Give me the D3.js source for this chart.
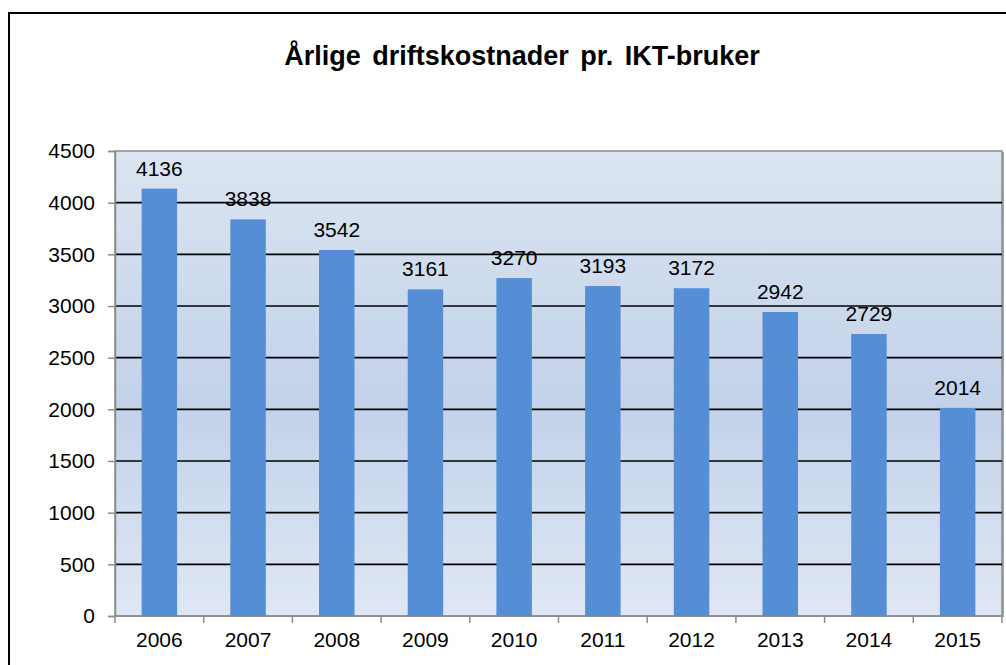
<!DOCTYPE html>
<html>
<head>
<meta charset="utf-8">
<script src="https://cdn.jsdelivr.net/npm/d3@7"></script>
<style>
  body { margin: 0; background: #fff; }
  svg { display: block; font-family: Arial, "Liberation Sans", sans-serif; }
</style>
</head>
<body>
<svg id="chart" width="1006" height="665"></svg>
<script>
const years = ['2006', '2007', '2008', '2009', '2010', '2011', '2012', '2013', '2014', '2015']
const costs = [4136, 3838, 3542, 3161, 3270, 3193, 3172, 2942, 2729, 2014]
const yTicks = [0, 500, 1000, 1500, 2000, 2500, 3000, 3500, 4000, 4500]
const title = 'Årlige driftskostnader pr. IKT-bruker'

const svg = d3.select('#chart')
const plotL = 115, plotR = 1002, plotT = 151, plotB = 616
const barColor = '#558ed5'
const fontSize = '21px'

// outer frame (runs off the right and bottom edges)
svg.append('rect')
  .attr('x', 9).attr('y', 13)
  .attr('width', 1010).attr('height', 670)
  .attr('fill', 'none')
  .attr('stroke', '#000')
  .attr('stroke-width', 2)

const defs = svg.append('defs')
const grad = defs.append('linearGradient')
  .attr('id', 'bg')
  .attr('x1', 0).attr('y1', 0).attr('x2', 0).attr('y2', 1)
grad.append('stop').attr('offset', '0%').attr('stop-color', '#dbe5f1')
grad.append('stop').attr('offset', '55%').attr('stop-color', '#c2d2ea')
grad.append('stop').attr('offset', '100%').attr('stop-color', '#dfe7f4')

const x = d3.scaleBand()
  .domain(years)
  .range([plotL, plotR])
  .paddingInner(0.6)
  .paddingOuter(0.3)

const y = d3.scaleLinear()
  .domain([0, 4500])
  .range([plotB, plotT])

// plot background + shadowed border
svg.append('rect')
  .attr('x', plotL + 2).attr('y', plotT + 1)
  .attr('width', plotR - plotL).attr('height', plotB - plotT)
  .attr('fill', '#a6a6a6')
svg.append('rect')
  .attr('x', plotL).attr('y', plotT)
  .attr('width', plotR - plotL).attr('height', plotB - plotT)
  .attr('fill', 'url(#bg)')
  .attr('stroke', '#8c8c8c')
  .attr('stroke-width', 1.5)

// gridlines
svg.append('g')
  .selectAll('line')
  .data(yTicks.filter(t => t > 0 && t < 4500))
  .join('line')
  .attr('x1', plotL).attr('x2', plotR)
  .attr('y1', d => y(d)).attr('y2', d => y(d))
  .attr('stroke', '#000')
  .attr('stroke-width', 1.6)

// y axis
const yAxis = svg.append('g')
  .attr('transform', `translate(${plotL},0)`)
  .call(d3.axisLeft(y).tickValues(yTicks).tickFormat(d3.format('d')).tickSize(7).tickPadding(13))
yAxis.select('.domain').attr('stroke', '#8c8c8c').attr('stroke-width', 1.5)
yAxis.selectAll('.tick line').attr('stroke', '#8c8c8c').attr('stroke-width', 1.5)
yAxis.selectAll('.tick text')
  .attr('font-size', fontSize)
  .attr('font-family', 'Arial, "Liberation Sans", sans-serif')
  .attr('fill', '#000')

// x axis: ticks on category boundaries
const xg = svg.append('g')
  .attr('transform', `translate(0,${plotB})`)
xg.append('line')
  .attr('x1', plotL).attr('x2', plotR)
  .attr('stroke', '#8c8c8c').attr('stroke-width', 1.5)
const step = x.step()
xg.selectAll('line.tk')
  .data(d3.range(years.length + 1))
  .join('line')
  .attr('class', 'tk')
  .attr('x1', i => plotL + i * step).attr('x2', i => plotL + i * step)
  .attr('y1', 0).attr('y2', 7)
  .attr('stroke', '#8c8c8c').attr('stroke-width', 1.5)
xg.selectAll('text')
  .data(years)
  .join('text')
  .attr('x', d => x(d) + x.bandwidth() / 2)
  .attr('y', 31)
  .attr('text-anchor', 'middle')
  .attr('font-size', fontSize)
  .text(d => d)

// bars
svg.append('g')
  .selectAll('rect')
  .data(costs)
  .join('rect')
  .attr('x', (d, i) => x(years[i]))
  .attr('y', d => y(d))
  .attr('width', x.bandwidth())
  .attr('height', d => plotB - y(d))
  .attr('fill', barColor)

// value labels
svg.append('g')
  .selectAll('text')
  .data(costs)
  .join('text')
  .attr('x', (d, i) => x(years[i]) + x.bandwidth() / 2)
  .attr('y', d => y(d) - 13)
  .attr('text-anchor', 'middle')
  .attr('font-size', fontSize)
  .text(d => d)

svg.append('text')
  .attr('x', 522)
  .attr('y', 65)
  .attr('text-anchor', 'middle')
  .attr('font-size', '27px')
  .attr('font-weight', 'bold')
  .attr('word-spacing', '4px')
  .text(title)
</script>
</body>
</html>
